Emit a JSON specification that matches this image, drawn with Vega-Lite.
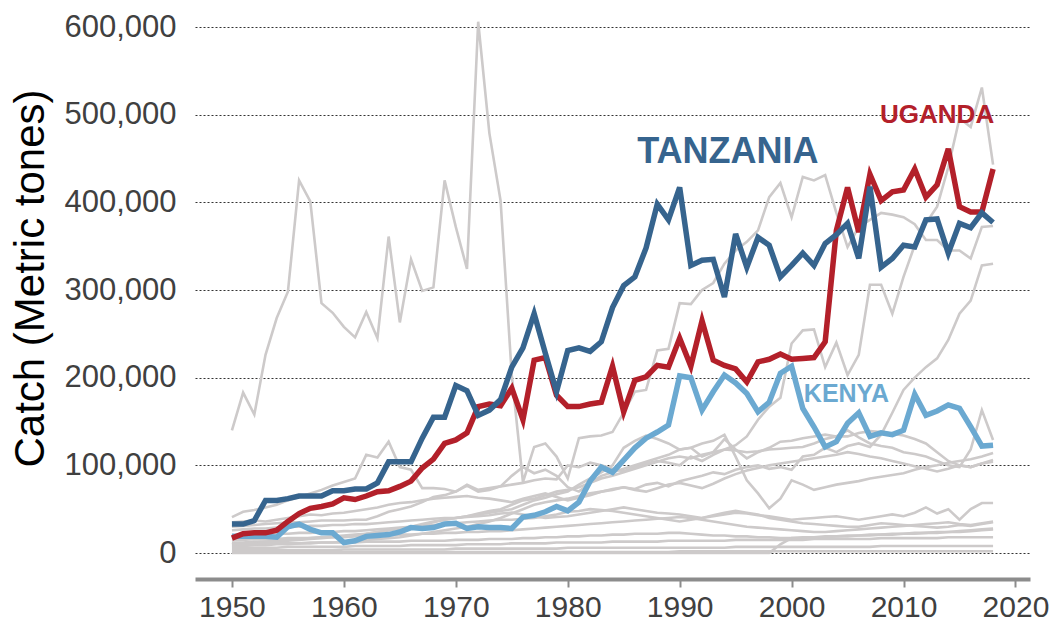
{
"$schema": "https://vega.github.io/schema/vega-lite/v6.json",
"width": 835, "height": 559,
"autosize": {"type": "none"},
"padding": {"left": 195, "top": 20, "right": 21, "bottom": 44},
"background": "white",
"config": {"view": {"stroke": null}, "font": "Liberation Sans"},
"datasets": {"catch": [
{"year":1950,"TZ":33e3,"UG":17e3,"KE":19e3,"g1":140e3,"g2":12e3,"g3":8e3,"g4":10e3,"g5":35e3,"g6":41e3,"g7":30e3,"g8":26e3,"g9":20e3,"g10":15e3,"g11":10e3,"g12":6e3,"g13":3e3,"g14":1e3,"g15":0},
{"year":1951,"TZ":33e3,"UG":22e3,"KE":19e3,"g1":183e3,"g2":12e3,"g3":8e3,"g4":11e3,"g5":36e3,"g6":47e3,"g7":31e3,"g8":27e3,"g9":20e3,"g10":15e3,"g11":10e3,"g12":6e3,"g13":3e3,"g14":1e3,"g15":0},
{"year":1952,"TZ":37e3,"UG":23e3,"KE":19e3,"g1":158e3,"g2":13e3,"g3":9e3,"g4":12e3,"g5":37e3,"g6":49e3,"g7":32e3,"g8":28e3,"g9":21e3,"g10":16e3,"g11":10e3,"g12":6e3,"g13":3e3,"g14":1e3,"g15":0},
{"year":1953,"TZ":60e3,"UG":23e3,"KE":19e3,"g1":226e3,"g2":13e3,"g3":9e3,"g4":13e3,"g5":36e3,"g6":52e3,"g7":33e3,"g8":28e3,"g9":21e3,"g10":16e3,"g11":11e3,"g12":6e3,"g13":3e3,"g14":1e3,"g15":0},
{"year":1954,"TZ":60e3,"UG":26e3,"KE":18e3,"g1":268e3,"g2":14e3,"g3":10e3,"g4":13e3,"g5":38e3,"g6":55e3,"g7":34e3,"g8":29e3,"g9":22e3,"g10":16e3,"g11":11e3,"g12":6e3,"g13":3e3,"g14":1e3,"g15":0},
{"year":1955,"TZ":62e3,"UG":36e3,"KE":30e3,"g1":298e3,"g2":15e3,"g3":10e3,"g4":14e3,"g5":40e3,"g6":60e3,"g7":35e3,"g8":30e3,"g9":22e3,"g10":17e3,"g11":11e3,"g12":7e3,"g13":3e3,"g14":1e3,"g15":0},
{"year":1956,"TZ":65e3,"UG":45e3,"KE":33e3,"g1":425e3,"g2":16e3,"g3":11e3,"g4":15e3,"g5":42e3,"g6":64e3,"g7":35e3,"g8":30e3,"g9":23e3,"g10":17e3,"g11":11e3,"g12":7e3,"g13":3e3,"g14":1e3,"g15":0},
{"year":1957,"TZ":65e3,"UG":51e3,"KE":27e3,"g1":401e3,"g2":17e3,"g3":11e3,"g4":16e3,"g5":44e3,"g6":68e3,"g7":36e3,"g8":31e3,"g9":23e3,"g10":17e3,"g11":12e3,"g12":7e3,"g13":3e3,"g14":1e3,"g15":0},
{"year":1958,"TZ":65e3,"UG":53e3,"KE":23e3,"g1":285e3,"g2":18e3,"g3":12e3,"g4":17e3,"g5":43e3,"g6":72e3,"g7":37e3,"g8":31e3,"g9":24e3,"g10":18e3,"g11":12e3,"g12":7e3,"g13":3e3,"g14":1e3,"g15":0},
{"year":1959,"TZ":71e3,"UG":56e3,"KE":23e3,"g1":274e3,"g2":19e3,"g3":12e3,"g4":18e3,"g5":45e3,"g6":77e3,"g7":37e3,"g8":32e3,"g9":24e3,"g10":18e3,"g11":12e3,"g12":7e3,"g13":3e3,"g14":1e3,"g15":0},
{"year":1960,"TZ":71e3,"UG":63e3,"KE":12e3,"g1":258e3,"g2":20e3,"g3":13e3,"g4":19e3,"g5":46e3,"g6":81e3,"g7":37e3,"g8":32e3,"g9":25e3,"g10":18e3,"g11":12e3,"g12":7e3,"g13":4e3,"g14":1e3,"g15":0},
{"year":1961,"TZ":73e3,"UG":61e3,"KE":14e3,"g1":246e3,"g2":21e3,"g3":14e3,"g4":20e3,"g5":48e3,"g6":85e3,"g7":38e3,"g8":33e3,"g9":25e3,"g10":19e3,"g11":12e3,"g12":8e3,"g13":4e3,"g14":1e3,"g15":0},
{"year":1962,"TZ":73e3,"UG":65e3,"KE":19e3,"g1":275e3,"g2":22e3,"g3":15e3,"g4":22e3,"g5":50e3,"g6":112e3,"g7":38e3,"g8":33e3,"g9":26e3,"g10":19e3,"g11":13e3,"g12":8e3,"g13":4e3,"g14":1e3,"g15":0},
{"year":1963,"TZ":80e3,"UG":70e3,"KE":20e3,"g1":245e3,"g2":24e3,"g3":16e3,"g4":24e3,"g5":52e3,"g6":109e3,"g7":42e3,"g8":34e3,"g9":27e3,"g10":20e3,"g11":13e3,"g12":8e3,"g13":4e3,"g14":1e3,"g15":0},
{"year":1964,"TZ":104e3,"UG":71e3,"KE":21e3,"g1":361e3,"g2":26e3,"g3":17e3,"g4":26e3,"g5":55e3,"g6":127e3,"g7":47e3,"g8":35e3,"g9":28e3,"g10":20e3,"g11":13e3,"g12":8e3,"g13":4e3,"g14":1e3,"g15":0},
{"year":1965,"TZ":104e3,"UG":76e3,"KE":24e3,"g1":263e3,"g2":28e3,"g3":18e3,"g4":28e3,"g5":57e3,"g6":98e3,"g7":50e3,"g8":36e3,"g9":29e3,"g10":21e3,"g11":13e3,"g12":8e3,"g13":4e3,"g14":1e3,"g15":0},
{"year":1966,"TZ":104e3,"UG":82e3,"KE":29e3,"g1":335e3,"g2":30e3,"g3":20e3,"g4":30e3,"g5":58e3,"g6":95e3,"g7":53e3,"g8":37e3,"g9":30e3,"g10":21e3,"g11":14e3,"g12":9e3,"g13":4e3,"g14":1e3,"g15":0},
{"year":1967,"TZ":131e3,"UG":97e3,"KE":28e3,"g1":299e3,"g2":32e3,"g3":22e3,"g4":33e3,"g5":60e3,"g6":74e3,"g7":58e3,"g8":38e3,"g9":31e3,"g10":22e3,"g11":14e3,"g12":9e3,"g13":4e3,"g14":1e3,"g15":0},
{"year":1968,"TZ":155e3,"UG":107e3,"KE":29e3,"g1":303e3,"g2":35e3,"g3":24e3,"g4":36e3,"g5":62e3,"g6":74e3,"g7":64e3,"g8":39e3,"g9":32e3,"g10":22e3,"g11":14e3,"g12":9e3,"g13":4e3,"g14":1e3,"g15":0},
{"year":1969,"TZ":155e3,"UG":125e3,"KE":33e3,"g1":425e3,"g2":38e3,"g3":26e3,"g4":38e3,"g5":63e3,"g6":73e3,"g7":66e3,"g8":40e3,"g9":33e3,"g10":23e3,"g11":14e3,"g12":9e3,"g13":4e3,"g14":1e3,"g15":0},
{"year":1970,"TZ":191e3,"UG":129e3,"KE":34e3,"g1":372e3,"g2":40e3,"g3":28e3,"g4":40e3,"g5":64e3,"g6":70e3,"g7":70e3,"g8":40e3,"g9":34e3,"g10":23e3,"g11":15e3,"g12":9e3,"g13":5e3,"g14":1e3,"g15":0},
{"year":1971,"TZ":185e3,"UG":137e3,"KE":28e3,"g1":324e3,"g2":42e3,"g3":30e3,"g4":42e3,"g5":65e3,"g6":77e3,"g7":78e3,"g8":41e3,"g9":35e3,"g10":24e3,"g11":15e3,"g12":10e3,"g13":5e3,"g14":1e3,"g15":0},
{"year":1972,"TZ":157e3,"UG":167e3,"KE":30e3,"g1":606e3,"g2":45e3,"g3":33e3,"g4":44e3,"g5":63e3,"g6":70e3,"g7":72e3,"g8":42e3,"g9":36e3,"g10":24e3,"g11":15e3,"g12":10e3,"g13":5e3,"g14":1e3,"g15":0},
{"year":1973,"TZ":163e3,"UG":170e3,"KE":29e3,"g1":479e3,"g2":48e3,"g3":36e3,"g4":46e3,"g5":62e3,"g6":72e3,"g7":74e3,"g8":43e3,"g9":37e3,"g10":25e3,"g11":16e3,"g12":10e3,"g13":5e3,"g14":1e3,"g15":0},
{"year":1974,"TZ":175e3,"UG":168e3,"KE":29e3,"g1":402e3,"g2":50e3,"g3":40e3,"g4":48e3,"g5":60e3,"g6":76e3,"g7":76e3,"g8":45e3,"g9":38e3,"g10":25e3,"g11":16e3,"g12":10e3,"g13":5e3,"g14":1e3,"g15":0},
{"year":1975,"TZ":212e3,"UG":188e3,"KE":28e3,"g1":203e3,"g2":55e3,"g3":45e3,"g4":50e3,"g5":58e3,"g6":78e3,"g7":88e3,"g8":46e3,"g9":38e3,"g10":26e3,"g11":16e3,"g12":11e3,"g13":5e3,"g14":1e3,"g15":0},
{"year":1976,"TZ":234e3,"UG":152e3,"KE":41e3,"g1":81e3,"g2":60e3,"g3":50e3,"g4":55e3,"g5":62e3,"g6":80e3,"g7":98e3,"g8":44e3,"g9":39e3,"g10":27e3,"g11":17e3,"g12":11e3,"g13":5e3,"g14":1e3,"g15":0},
{"year":1977,"TZ":273e3,"UG":220e3,"KE":43e3,"g1":121e3,"g2":62e3,"g3":55e3,"g4":60e3,"g5":65e3,"g6":83e3,"g7":91e3,"g8":42e3,"g9":40e3,"g10":28e3,"g11":17e3,"g12":11e3,"g13":5e3,"g14":1e3,"g15":0},
{"year":1978,"TZ":228e3,"UG":223e3,"KE":47e3,"g1":125e3,"g2":66e3,"g3":58e3,"g4":63e3,"g5":68e3,"g6":85e3,"g7":95e3,"g8":40e3,"g9":42e3,"g10":29e3,"g11":18e3,"g12":11e3,"g13":5e3,"g14":1e3,"g15":0},
{"year":1979,"TZ":184e3,"UG":180e3,"KE":53e3,"g1":110e3,"g2":70e3,"g3":60e3,"g4":67e3,"g5":64e3,"g6":84e3,"g7":88e3,"g8":41e3,"g9":44e3,"g10":30e3,"g11":18e3,"g12":12e3,"g13":5e3,"g14":1e3,"g15":0},
{"year":1980,"TZ":231e3,"UG":167e3,"KE":48e3,"g1":85e3,"g2":72e3,"g3":62e3,"g4":70e3,"g5":60e3,"g6":100e3,"g7":75e3,"g8":42e3,"g9":47e3,"g10":31e3,"g11":19e3,"g12":12e3,"g13":6e3,"g14":1e3,"g15":0},
{"year":1981,"TZ":234e3,"UG":167e3,"KE":58e3,"g1":131e3,"g2":75e3,"g3":65e3,"g4":78e3,"g5":63e3,"g6":98e3,"g7":70e3,"g8":44e3,"g9":48e3,"g10":32e3,"g11":19e3,"g12":12e3,"g13":6e3,"g14":1e3,"g15":0},
{"year":1982,"TZ":230e3,"UG":170e3,"KE":82e3,"g1":133e3,"g2":80e3,"g3":68e3,"g4":85e3,"g5":66e3,"g6":103e3,"g7":80e3,"g8":46e3,"g9":50e3,"g10":33e3,"g11":20e3,"g12":12e3,"g13":6e3,"g14":1e3,"g15":0},
{"year":1983,"TZ":241e3,"UG":172e3,"KE":98e3,"g1":134e3,"g2":85e3,"g3":70e3,"g4":92e3,"g5":70e3,"g6":100e3,"g7":88e3,"g8":48e3,"g9":49e3,"g10":34e3,"g11":20e3,"g12":12e3,"g13":6e3,"g14":1e3,"g15":0},
{"year":1984,"TZ":280e3,"UG":213e3,"KE":92e3,"g1":138e3,"g2":88e3,"g3":72e3,"g4":100e3,"g5":73e3,"g6":96e3,"g7":92e3,"g8":50e3,"g9":48e3,"g10":35e3,"g11":21e3,"g12":13e3,"g13":6e3,"g14":1e3,"g15":0},
{"year":1985,"TZ":305e3,"UG":161e3,"KE":106e3,"g1":160e3,"g2":92e3,"g3":75e3,"g4":120e3,"g5":75e3,"g6":93e3,"g7":96e3,"g8":52e3,"g9":46e3,"g10":36e3,"g11":21e3,"g12":13e3,"g13":6e3,"g14":1e3,"g15":0},
{"year":1986,"TZ":315e3,"UG":197e3,"KE":120e3,"g1":184e3,"g2":96e3,"g3":73e3,"g4":128e3,"g5":72e3,"g6":98e3,"g7":100e3,"g8":50e3,"g9":44e3,"g10":37e3,"g11":22e3,"g12":13e3,"g13":6e3,"g14":1e3,"g15":0},
{"year":1987,"TZ":348e3,"UG":201e3,"KE":131e3,"g1":186e3,"g2":100e3,"g3":78e3,"g4":134e3,"g5":70e3,"g6":102e3,"g7":104e3,"g8":48e3,"g9":42e3,"g10":38e3,"g11":22e3,"g12":13e3,"g13":6e3,"g14":1e3,"g15":0},
{"year":1988,"TZ":398e3,"UG":214e3,"KE":138e3,"g1":231e3,"g2":104e3,"g3":80e3,"g4":130e3,"g5":74e3,"g6":105e3,"g7":108e3,"g8":46e3,"g9":40e3,"g10":39e3,"g11":22e3,"g12":13e3,"g13":6e3,"g14":1e3,"g15":0},
{"year":1989,"TZ":380e3,"UG":212e3,"KE":146e3,"g1":233e3,"g2":108e3,"g3":76e3,"g4":125e3,"g5":78e3,"g6":103e3,"g7":112e3,"g8":45e3,"g9":38e3,"g10":40e3,"g11":23e3,"g12":14e3,"g13":6e3,"g14":1e3,"g15":0},
{"year":1990,"TZ":417e3,"UG":245e3,"KE":202e3,"g1":285e3,"g2":110e3,"g3":82e3,"g4":118e3,"g5":80e3,"g6":100e3,"g7":118e3,"g8":44e3,"g9":36e3,"g10":41e3,"g11":23e3,"g12":14e3,"g13":6e3,"g14":2e3,"g15":0},
{"year":1991,"TZ":328e3,"UG":213e3,"KE":200e3,"g1":284e3,"g2":108e3,"g3":85e3,"g4":120e3,"g5":77e3,"g6":110e3,"g7":120e3,"g8":42e3,"g9":38e3,"g10":40e3,"g11":22e3,"g12":14e3,"g13":6e3,"g14":2e3,"g15":0},
{"year":1992,"TZ":334e3,"UG":265e3,"KE":163e3,"g1":300e3,"g2":112e3,"g3":88e3,"g4":110e3,"g5":74e3,"g6":105e3,"g7":125e3,"g8":40e3,"g9":40e3,"g10":38e3,"g11":21e3,"g12":14e3,"g13":6e3,"g14":2e3,"g15":0},
{"year":1993,"TZ":335e3,"UG":220e3,"KE":184e3,"g1":308e3,"g2":115e3,"g3":92e3,"g4":115e3,"g5":79e3,"g6":112e3,"g7":128e3,"g8":42e3,"g9":43e3,"g10":36e3,"g11":20e3,"g12":14e3,"g13":6e3,"g14":2e3,"g15":0},
{"year":1994,"TZ":292e3,"UG":214e3,"KE":203e3,"g1":330e3,"g2":118e3,"g3":90e3,"g4":130e3,"g5":85e3,"g6":118e3,"g7":135e3,"g8":44e3,"g9":46e3,"g10":34e3,"g11":20e3,"g12":14e3,"g13":6e3,"g14":2e3,"g15":0},
{"year":1995,"TZ":364e3,"UG":210e3,"KE":194e3,"g1":345e3,"g2":123e3,"g3":95e3,"g4":118e3,"g5":90e3,"g6":117e3,"g7":110e3,"g8":46e3,"g9":48e3,"g10":32e3,"g11":19e3,"g12":15e3,"g13":7e3,"g14":2e3,"g15":0},
{"year":1996,"TZ":326e3,"UG":195e3,"KE":182e3,"g1":355e3,"g2":133e3,"g3":98e3,"g4":108e3,"g5":94e3,"g6":115e3,"g7":83e3,"g8":45e3,"g9":46e3,"g10":30e3,"g11":19e3,"g12":15e3,"g13":7e3,"g14":2e3,"g15":0},
{"year":1997,"TZ":360e3,"UG":218e3,"KE":161e3,"g1":368e3,"g2":152e3,"g3":100e3,"g4":115e3,"g5":97e3,"g6":116e3,"g7":68e3,"g8":43e3,"g9":44e3,"g10":29e3,"g11":18e3,"g12":15e3,"g13":7e3,"g14":2e3,"g15":0},
{"year":1998,"TZ":351e3,"UG":221e3,"KE":172e3,"g1":406e3,"g2":167e3,"g3":96e3,"g4":120e3,"g5":100e3,"g6":118e3,"g7":51e3,"g8":42e3,"g9":40e3,"g10":28e3,"g11":18e3,"g12":15e3,"g13":7e3,"g14":2e3,"g15":0},
{"year":1999,"TZ":315e3,"UG":227e3,"KE":205e3,"g1":422e3,"g2":177e3,"g3":98e3,"g4":127e3,"g5":102e3,"g6":119e3,"g7":62e3,"g8":40e3,"g9":38e3,"g10":27e3,"g11":17e3,"g12":15e3,"g13":7e3,"g14":2e3,"g15":10e3},
{"year":2000,"TZ":328e3,"UG":221e3,"KE":213e3,"g1":383e3,"g2":239e3,"g3":95e3,"g4":128e3,"g5":104e3,"g6":120e3,"g7":83e3,"g8":38e3,"g9":36e3,"g10":26e3,"g11":17e3,"g12":15e3,"g13":7e3,"g14":2e3,"g15":17e3},
{"year":2001,"TZ":342e3,"UG":222e3,"KE":165e3,"g1":429e3,"g2":254e3,"g3":110e3,"g4":131e3,"g5":106e3,"g6":121e3,"g7":78e3,"g8":39e3,"g9":34e3,"g10":25e3,"g11":17e3,"g12":15e3,"g13":7e3,"g14":2e3,"g15":18e3},
{"year":2002,"TZ":328e3,"UG":223e3,"KE":144e3,"g1":425e3,"g2":255e3,"g3":112e3,"g4":133e3,"g5":108e3,"g6":125e3,"g7":72e3,"g8":40e3,"g9":33e3,"g10":24e3,"g11":18e3,"g12":16e3,"g13":7e3,"g14":2e3,"g15":18e3},
{"year":2003,"TZ":353e3,"UG":241e3,"KE":121e3,"g1":431e3,"g2":212e3,"g3":120e3,"g4":135e3,"g5":110e3,"g6":130e3,"g7":75e3,"g8":41e3,"g9":32e3,"g10":24e3,"g11":18e3,"g12":16e3,"g13":7e3,"g14":2e3,"g15":19e3},
{"year":2004,"TZ":363e3,"UG":368e3,"KE":127e3,"g1":388e3,"g2":240e3,"g3":115e3,"g4":133e3,"g5":112e3,"g6":133e3,"g7":78e3,"g8":42e3,"g9":31e3,"g10":25e3,"g11":19e3,"g12":16e3,"g13":7e3,"g14":2e3,"g15":19e3},
{"year":2005,"TZ":376e3,"UG":417e3,"KE":148e3,"g1":349e3,"g2":203e3,"g3":122e3,"g4":140e3,"g5":115e3,"g6":133e3,"g7":80e3,"g8":40e3,"g9":30e3,"g10":26e3,"g11":19e3,"g12":16e3,"g13":7e3,"g14":2e3,"g15":20e3},
{"year":2006,"TZ":336e3,"UG":366e3,"KE":160e3,"g1":372e3,"g2":226e3,"g3":125e3,"g4":132e3,"g5":113e3,"g6":137e3,"g7":82e3,"g8":38e3,"g9":30e3,"g10":27e3,"g11":20e3,"g12":16e3,"g13":7e3,"g14":2e3,"g15":20e3},
{"year":2007,"TZ":418e3,"UG":432e3,"KE":133e3,"g1":380e3,"g2":306e3,"g3":121e3,"g4":125e3,"g5":110e3,"g6":139e3,"g7":85e3,"g8":40e3,"g9":32e3,"g10":28e3,"g11":20e3,"g12":16e3,"g13":7e3,"g14":2e3,"g15":21e3},
{"year":2008,"TZ":326e3,"UG":402e3,"KE":137e3,"g1":388e3,"g2":306e3,"g3":135e3,"g4":122e3,"g5":108e3,"g6":138e3,"g7":87e3,"g8":42e3,"g9":34e3,"g10":29e3,"g11":21e3,"g12":17e3,"g13":8e3,"g14":2e3,"g15":21e3},
{"year":2009,"TZ":336e3,"UG":412e3,"KE":135e3,"g1":386e3,"g2":273e3,"g3":160e3,"g4":120e3,"g5":105e3,"g6":136e3,"g7":89e3,"g8":44e3,"g9":33e3,"g10":30e3,"g11":21e3,"g12":17e3,"g13":8e3,"g14":2e3,"g15":22e3},
{"year":2010,"TZ":351e3,"UG":414e3,"KE":140e3,"g1":383e3,"g2":315e3,"g3":186e3,"g4":115e3,"g5":102e3,"g6":134e3,"g7":91e3,"g8":42e3,"g9":32e3,"g10":31e3,"g11":22e3,"g12":17e3,"g13":8e3,"g14":2e3,"g15":22e3},
{"year":2011,"TZ":349e3,"UG":438e3,"KE":181e3,"g1":375e3,"g2":351e3,"g3":200e3,"g4":113e3,"g5":99e3,"g6":130e3,"g7":95e3,"g8":46e3,"g9":31e3,"g10":32e3,"g11":22e3,"g12":17e3,"g13":8e3,"g14":2e3,"g15":23e3},
{"year":2012,"TZ":380e3,"UG":406e3,"KE":157e3,"g1":357e3,"g2":376e3,"g3":212e3,"g4":110e3,"g5":96e3,"g6":125e3,"g7":98e3,"g8":52e3,"g9":30e3,"g10":33e3,"g11":23e3,"g12":17e3,"g13":8e3,"g14":2e3,"g15":23e3},
{"year":2013,"TZ":381e3,"UG":420e3,"KE":162e3,"g1":357e3,"g2":395e3,"g3":222e3,"g4":105e3,"g5":93e3,"g6":115e3,"g7":100e3,"g8":45e3,"g9":29e3,"g10":34e3,"g11":23e3,"g12":17e3,"g13":8e3,"g14":2e3,"g15":24e3},
{"year":2014,"TZ":342e3,"UG":461e3,"KE":169e3,"g1":345e3,"g2":440e3,"g3":243e3,"g4":100e3,"g5":96e3,"g6":105e3,"g7":103e3,"g8":50e3,"g9":30e3,"g10":35e3,"g11":24e3,"g12":18e3,"g13":8e3,"g14":2e3,"g15":24e3},
{"year":2015,"TZ":376e3,"UG":395e3,"KE":165e3,"g1":345e3,"g2":496e3,"g3":273e3,"g4":98e3,"g5":100e3,"g6":100e3,"g7":105e3,"g8":38e3,"g9":32e3,"g10":33e3,"g11":24e3,"g12":18e3,"g13":8e3,"g14":2e3,"g15":25e3},
{"year":2016,"TZ":371e3,"UG":389e3,"KE":144e3,"g1":336e3,"g2":486e3,"g3":288e3,"g4":118e3,"g5":98e3,"g6":98e3,"g7":107e3,"g8":50e3,"g9":31e3,"g10":32e3,"g11":25e3,"g12":18e3,"g13":8e3,"g14":2e3,"g15":26e3},
{"year":2017,"TZ":388e3,"UG":389e3,"KE":122e3,"g1":372e3,"g2":531e3,"g3":328e3,"g4":163e3,"g5":102e3,"g6":102e3,"g7":110e3,"g8":57e3,"g9":33e3,"g10":34e3,"g11":26e3,"g12":18e3,"g13":8e3,"g14":2e3,"g15":27e3},
{"year":2018,"TZ":377e3,"UG":438e3,"KE":123e3,"g1":373e3,"g2":443e3,"g3":330e3,"g4":129e3,"g5":104e3,"g6":106e3,"g7":114e3,"g8":57e3,"g9":35e3,"g10":36e3,"g11":27e3,"g12":18e3,"g13":8e3,"g14":2e3,"g15":28e3}
]},
"layer": [
{"data": {"name": "catch"},
 "transform": [{"fold": ["g1","g2","g3","g4","g5","g6","g7","g8","g9","g10","g11","g12","g13","g14","g15"], "as": ["series","catch"]}],
 "mark": {"type": "line", "stroke": "#cdcaca", "strokeWidth": 2.6},
 "encoding": {
  "x": {"field": "year", "type": "quantitative", "title": null,
        "scale": {"domain": [1946.7, 2021.3], "nice": false, "zero": false},
        "axis": {"values": [1950,1960,1970,1980,1990,2000,2010,2020], "format": "d", "title": null, "grid": false,
                 "domain": true, "domainColor": "#8c8c8c", "domainWidth": 4,
                 "ticks": true, "tickColor": "#8c8c8c", "tickWidth": 2, "tickSize": 8,
                 "labelFont": "Liberation Sans", "labelFontSize": 30, "labelColor": "#404040", "labelPadding": 5}},
  "y": {"field": "catch", "type": "quantitative", "title": "Catch (Metric tones)",
        "scale": {"domain": [-29650, 608000], "nice": false, "zero": false},
        "axis": {"values": [0,100000,200000,300000,400000,500000,600000], "format": ",.0f",
                 "title": "Catch (Metric tones)", "titleFont": "Liberation Sans", "titleFontSize": 42, "titleFontWeight": "normal", "titleColor": "#000000",
                 "titleAngle": 270, "titleX": -165, "titleY": 258, "titleAlign": "center", "titleBaseline": "middle",
                 "domain": false, "ticks": false, "grid": true, "gridDash": [2,2], "gridColor": "#333333", "gridWidth": 1,
                 "labelFont": "Liberation Sans", "labelFontSize": 31, "labelColor": "#404040", "labelPadding": 19}},
  "detail": {"field": "series", "type": "nominal"}
 }},
{"data": {"name": "catch"},
 "mark": {"type": "line", "stroke": "#6ba9d1", "strokeWidth": 5.5},
 "encoding": {"x": {"field": "year", "type": "quantitative", "title": null}, "y": {"field": "KE", "type": "quantitative", "title": "Catch (Metric tones)"}}},
{"data": {"name": "catch"},
 "mark": {"type": "line", "stroke": "#b3202a", "strokeWidth": 5.5},
 "encoding": {"x": {"field": "year", "type": "quantitative", "title": null}, "y": {"field": "UG", "type": "quantitative", "title": "Catch (Metric tones)"}}},
{"data": {"name": "catch"},
 "mark": {"type": "line", "stroke": "#36648e", "strokeWidth": 5.5},
 "encoding": {"x": {"field": "year", "type": "quantitative", "title": null}, "y": {"field": "TZ", "type": "quantitative", "title": "Catch (Metric tones)"}}},
{"data": {"values": [{"year": 1994.3, "catch": 444700, "label": "TANZANIA"}]},
 "mark": {"type": "text", "align": "center", "baseline": "alphabetic", "font": "Liberation Sans", "fontWeight": "bold", "fontSize": 36, "fill": "#36648e"},
 "encoding": {"x": {"field": "year", "type": "quantitative", "title": null}, "y": {"field": "catch", "type": "quantitative", "title": "Catch (Metric tones)"}, "text": {"field": "label"}}},
{"data": {"values": [{"year": 2013.0, "catch": 490300, "label": "UGANDA"}]},
 "mark": {"type": "text", "align": "center", "baseline": "alphabetic", "font": "Liberation Sans", "fontWeight": "bold", "fontSize": 26, "fill": "#b3202a"},
 "encoding": {"x": {"field": "year", "type": "quantitative", "title": null}, "y": {"field": "catch", "type": "quantitative", "title": "Catch (Metric tones)"}, "text": {"field": "label"}}},
{"data": {"values": [{"year": 2004.9, "catch": 172200, "label": "KENYA"}]},
 "mark": {"type": "text", "align": "center", "baseline": "alphabetic", "font": "Liberation Sans", "fontWeight": "bold", "fontSize": 25, "fill": "#6ba9d1"},
 "encoding": {"x": {"field": "year", "type": "quantitative", "title": null}, "y": {"field": "catch", "type": "quantitative", "title": "Catch (Metric tones)"}, "text": {"field": "label"}}}
]
}
